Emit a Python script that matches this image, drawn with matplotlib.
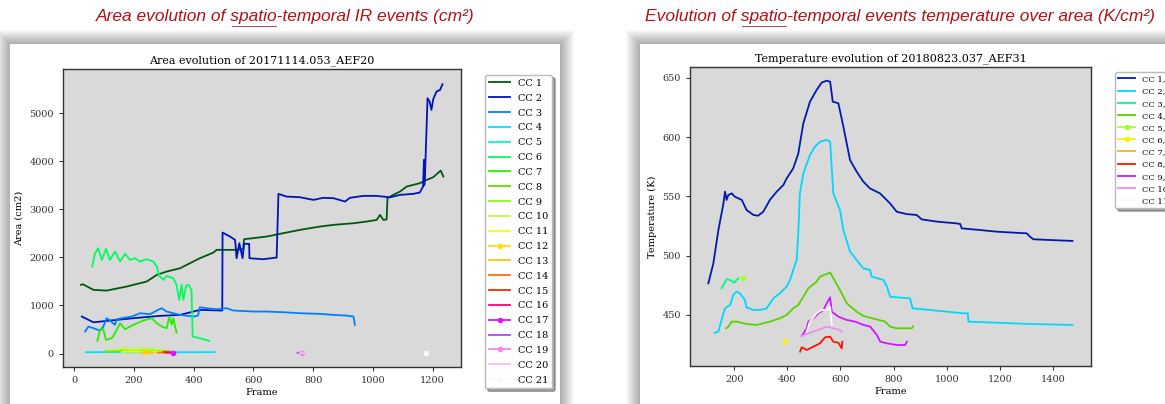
import numpy as np
import matplotlib
matplotlib.use('Agg')
import matplotlib.pyplot as plt
from matplotlib.patches import Rectangle
from matplotlib.lines import Line2D

# ---------------- data: left chart (area, cm2) ----------------
area_cc1_f = [23, 30, 65, 109, 176, 243, 277, 310, 355, 388, 421, 466, 477, 533, 566, 569, 645, 689, 756, 823, 868, 935, 979, 1013, 1024, 1035, 1046, 1049, 1068, 1091, 1113, 1157, 1180, 1202, 1227, 1236]
area_cc1_v = [1430, 1440, 1325, 1310, 1394, 1498, 1637, 1706, 1775, 1880, 1983, 2100, 2157, 2157, 2170, 2379, 2434, 2490, 2573, 2642, 2677, 2711, 2746, 2781, 2885, 2781, 2790, 3232, 3301, 3370, 3474, 3544, 3613, 3668, 3807, 3682]

area_cc2_f = [26, 65, 120, 198, 288, 355, 421, 496, 497, 522, 539, 544, 553, 564, 569, 586, 587, 633, 678, 684, 711, 756, 801, 834, 868, 907, 923, 968, 1013, 1057, 1091, 1135, 1157, 1168, 1171, 1172, 1174, 1183, 1190, 1196, 1202, 1213, 1225, 1233]
area_cc2_v = [770, 650, 686, 735, 784, 804, 908, 895, 2517, 2434, 2365, 1983, 2295, 1983, 2282, 2282, 1983, 1962, 1997, 3322, 3266, 3252, 3197, 3240, 3232, 3162, 3240, 3280, 3280, 3250, 3301, 3322, 3350, 3474, 4029, 3500, 3613, 5312, 5243, 5070, 5291, 5451, 5485, 5603]

area_cc3_f = [37, 48, 65, 87, 98, 109, 120, 137, 143, 159, 193, 221, 254, 277, 293, 310, 355, 399, 415, 421, 444, 477, 511, 533, 600, 645, 700, 756, 823, 868, 912, 935, 940]
area_cc3_v = [458, 562, 527, 478, 560, 735, 687, 596, 714, 735, 770, 839, 818, 895, 943, 874, 804, 770, 790, 964, 943, 922, 943, 895, 874, 874, 860, 839, 825, 804, 790, 770, 596]

area_cc4_f = [40, 100, 200, 300, 400, 470]
area_cc4_v = [28, 30, 27, 30, 28, 30]
area_cc5_f = [100, 200, 330]
area_cc5_v = [35, 38, 36]

area_cc6_f = [61, 70, 81, 93, 107, 120, 137, 154, 171, 187, 204, 221, 243, 265, 277, 285, 299, 310, 332, 343, 352, 360, 366, 375, 383, 393, 397, 421, 452]
area_cc6_v = [1810, 2087, 2191, 1949, 2178, 1949, 2122, 1914, 2074, 1949, 1983, 1914, 1963, 1914, 1810, 1616, 1533, 1616, 1567, 1429, 1117, 1429, 1117, 1408, 1429, 1325, 354, 319, 264]

area_cc7_f = [78, 87, 98, 107, 126, 137, 154, 171, 198, 232, 260, 277, 293, 310, 319, 327, 332, 343]
area_cc7_v = [264, 492, 506, 284, 319, 423, 631, 506, 596, 687, 735, 631, 562, 527, 770, 600, 735, 437]

area_cc8_f = [105, 150, 200, 250, 300, 320]
area_cc8_v = [40, 55, 45, 60, 50, 45]
area_cc9_f = [110, 160, 210, 260, 300]
area_cc9_v = [60, 70, 55, 75, 60]
area_cc10_f = [140, 160, 190, 220, 250, 280]
area_cc10_v = [90, 110, 95, 115, 100, 85]
area_cc11_f = [160, 200, 250, 290]
area_cc11_v = [35, 40, 30, 38]
area_cc12_f = [240]
area_cc12_v = [25]
area_cc13_f = [225, 250, 265]
area_cc13_v = [20, 25, 18]
area_cc14_f = [280, 310]
area_cc14_v = [22, 18]
area_cc15_f = [300, 325]
area_cc15_v = [30, 25]
area_cc16_f = [310, 328]
area_cc16_v = [15, 20]
area_cc17_f = [330]
area_cc17_v = [5]
area_cc18_f = [748, 758]
area_cc18_v = [15, 12]
area_cc19_f = [762]
area_cc19_v = [10]
area_cc20_f = [755, 775]
area_cc20_v = [8, 12]
area_cc21_f = [1177]
area_cc21_v = [20]

area_marked = [12, 17, 19, 21]

# ---------------- data: right chart (temperature, K) ----------------
temp_cc1_f = [102, 121, 140, 159, 165, 171, 177, 190, 202, 228, 246, 272, 290, 309, 334, 360, 385, 397, 422, 441, 460, 485, 510, 529, 548, 561, 571, 592, 611, 636, 661, 686, 711, 749, 787, 812, 850, 887, 906, 963, 1038, 1051, 1057, 1126, 1189, 1302, 1314, 1327, 1389, 1474]
temp_cc1_v = [476.7, 493.5, 521.6, 544.0, 554.0, 547.0, 551.0, 552.5, 549.7, 547.0, 538.5, 534.3, 533.7, 537.0, 547.0, 554.0, 559.6, 565.0, 573.6, 586.0, 611.5, 629.8, 639.6, 645.8, 647.5, 646.6, 629.8, 628.4, 608.7, 580.6, 570.8, 562.4, 556.7, 552.5, 544.0, 537.0, 535.0, 534.3, 530.6, 528.7, 527.2, 526.7, 523.0, 521.6, 520.2, 518.8, 516.0, 513.8, 513.2, 512.4]

temp_cc2_f = [127, 140, 152, 165, 184, 196, 209, 221, 240, 246, 272, 297, 322, 347, 372, 397, 410, 422, 435, 441, 447, 460, 485, 504, 523, 548, 561, 573, 598, 611, 636, 661, 686, 711, 718, 762, 775, 787, 812, 862, 872, 938, 1063, 1080, 1082, 1189, 1314, 1474]
temp_cc2_v = [435.0, 436.0, 445.8, 455.6, 458.4, 466.9, 469.7, 468.3, 462.6, 456.5, 454.2, 454.2, 455.6, 464.0, 468.3, 473.9, 479.5, 488.0, 496.3, 518.8, 552.5, 569.4, 584.8, 591.9, 596.0, 597.5, 596.0, 552.5, 538.5, 521.6, 503.4, 496.3, 489.3, 488.0, 482.3, 479.5, 473.9, 465.4, 464.9, 464.0, 455.6, 454.2, 451.4, 451.4, 444.4, 443.5, 442.4, 441.6]

temp_cc3_f = [152, 171, 184, 199, 215]
temp_cc3_v = [472.5, 480.0, 479.5, 477.2, 481.0]

temp_cc4_f = [169, 177, 190, 209, 246, 284, 334, 372, 397, 422, 441, 460, 479, 510, 523, 561, 573, 598, 624, 661, 686, 736, 768, 787, 812, 869, 873]
temp_cc4_v = [438.8, 440.0, 444.4, 444.4, 442.4, 441.6, 444.4, 447.2, 450.0, 455.6, 458.4, 465.4, 472.5, 478.0, 482.3, 485.7, 481.0, 471.1, 459.8, 452.8, 449.2, 446.3, 444.4, 440.2, 438.8, 438.8, 440.5]

temp_cc5_f = [234]
temp_cc5_v = [481.0]
temp_cc6_f = [392]
temp_cc6_v = [428.0]
temp_cc7_f = []
temp_cc7_v = []

temp_cc8_f = [448, 454, 473, 498, 523, 542, 561, 573, 592, 605, 607]
temp_cc8_v = [419.1, 422.8, 420.5, 423.3, 426.1, 431.2, 431.7, 427.5, 426.6, 421.8, 427.5]

temp_cc9_f = [454, 473, 479, 498, 517, 536, 548, 561, 567, 592, 624, 655, 687, 712, 737, 750, 775, 812, 844, 850]
temp_cc9_v = [432.3, 438.8, 444.4, 447.2, 451.4, 454.2, 459.8, 464.9, 452.8, 448.6, 445.8, 444.4, 441.6, 440.2, 433.2, 427.5, 426.1, 424.7, 424.7, 427.5]

temp_cc10_f = [454, 473, 498, 523, 548, 573, 598, 605]
temp_cc10_v = [432.3, 434.0, 436.0, 438.0, 440.2, 438.8, 437.4, 436.0]

temp_cc11_f = [473, 485, 510, 529, 548, 561, 567]
temp_cc11_v = [436.0, 444.4, 451.4, 454.2, 454.2, 457.0, 441.6]

temp_marked = [5, 6]

# ---------------- figure ----------------
W, H = 1165, 404
plt.rcParams['font.family'] = ['DejaVu Serif']
fig = plt.figure(figsize=(W / 100, H / 100), dpi=100)
fig.patch.set_facecolor('white')


def fx(px):
    return px / W


def fy(py):
    return 1 - py / H


def card(x0, y0, x1, y1):
    for i in range(14, 0, -1):
        fig.add_artist(Rectangle((fx(x0 - i), fy(y1 + i)), (x1 - x0 + 2 * i) / W,
                                 (y1 - y0 + 2 * i) / H, transform=fig.transFigure,
                                 facecolor='black', alpha=0.022, edgecolor='none', zorder=0))
    fig.add_artist(Rectangle((fx(x0), fy(y1)), (x1 - x0) / W, (y1 - y0) / H,
                             transform=fig.transFigure, facecolor='white',
                             edgecolor='none', zorder=0.5))


card(10, 44, 560, 430)
card(640, 44, 1200, 430)

title_red = '#b3101a'
renderer = fig.canvas.get_renderer()
tfont = dict(color=title_red, fontsize=12.5, style='italic', family=['Liberation Sans', 'DejaVu Sans'])


def red_title(cx, cy, prefix, word, suffix):
    full = fig.text(fx(cx), fy(cy), prefix + word + suffix, ha='center', va='center', **tfont)
    wf = full.get_window_extent(renderer).width
    tmp = fig.text(0, 0, prefix + word, **tfont)
    wp_word = tmp.get_window_extent(renderer).width
    tmp.set_text(prefix)
    wp = tmp.get_window_extent(renderer).width
    tmp.remove()
    x0 = cx - wf / 2 + wp + 1
    x1 = cx - wf / 2 + wp_word - 1
    fig.add_artist(Line2D([fx(x0), fx(x1)], [fy(cy + 9), fy(cy + 9)], transform=fig.transFigure,
                          color=title_red, lw=0.7, alpha=0.8))


red_title(285, 17, 'Area evolution of ', 'spatio', '-temporal IR events (cm²)')
red_title(900, 17, 'Evolution of ', 'spatio', '-temporal events temperature over area (K/cm²)')


def style_ax(ax):
    ax.set_facecolor('#d9d9d9')
    for s in ax.spines.values():
        s.set_color('#333333')
        s.set_linewidth(1.0)
    ax.tick_params(labelsize=7, length=3, width=0.8, colors='#333333')
    ax.set_zorder(2)


# left chart
ax1 = fig.add_axes([fx(63), fy(367), 398 / W, 298 / H])
style_ax(ax1)
cmap = plt.get_cmap('gist_ncar')
g = globals()
n_left = 21
for i in range(1, n_left + 1):
    f = g['area_cc%d_f' % i]
    v = g['area_cc%d_v' % i]
    col = cmap(i / n_left)
    if i in area_marked:
        ax1.plot(f, v, color=col, lw=1.3, marker='o', ms=3, label='CC %d' % i)
    else:
        ax1.plot(f, v, color=col, lw=1.3, label='CC %d' % i)
ax1.set_xlim(-37, 1295)
ax1.set_ylim(-280, 5920)
ax1.set_xticks([0, 200, 400, 600, 800, 1000, 1200])
ax1.set_yticks([0, 1000, 2000, 3000, 4000, 5000])
ax1.set_title('Area evolution of 20171114.053_AEF20', fontsize=8, pad=4)
ax1.set_xlabel('Frame', fontsize=7, labelpad=2)
ax1.set_ylabel('Area (cm2)', fontsize=7)
ax1.legend(loc='upper left', bbox_to_anchor=(fx(485), fy(75)), bbox_transform=fig.transFigure,
           borderaxespad=0, fontsize=7, labelspacing=0.6, shadow=True, framealpha=1,
           edgecolor='#bbbbbb', handlelength=2.2)

# right chart
ax2 = fig.add_axes([fx(690), fy(366), 401 / W, 299 / H])
style_ax(ax2)
n_right = 11
for i in range(1, n_right + 1):
    f = g['temp_cc%d_f' % i]
    v = g['temp_cc%d_v' % i]
    col = cmap(i / n_right)
    if i in temp_marked:
        ax2.plot(f, v, color=col, lw=1.3, marker='o', ms=3, label='CC %d,' % i)
    else:
        ax2.plot(f, v, color=col, lw=1.3, label='CC %d,' % i)
ax2.set_xlim(33, 1544)
ax2.set_ylim(407, 659)
ax2.set_xticks([200, 400, 600, 800, 1000, 1200, 1400])
ax2.set_yticks([450, 500, 550, 600, 650])
ax2.set_title('Temperature evolution of 20180823.037_AEF31', fontsize=8, pad=4)
ax2.set_xlabel('Frame', fontsize=7, labelpad=2)
ax2.set_ylabel('Temperature (K)', fontsize=7)
ax2.legend(loc='upper left', bbox_to_anchor=(fx(1115), fy(72)), bbox_transform=fig.transFigure,
           borderaxespad=0, fontsize=6, labelspacing=0.5, shadow=True, framealpha=1,
           edgecolor='#bbbbbb', handlelength=2.0)

fig.savefig('out.png', dpi=100)
